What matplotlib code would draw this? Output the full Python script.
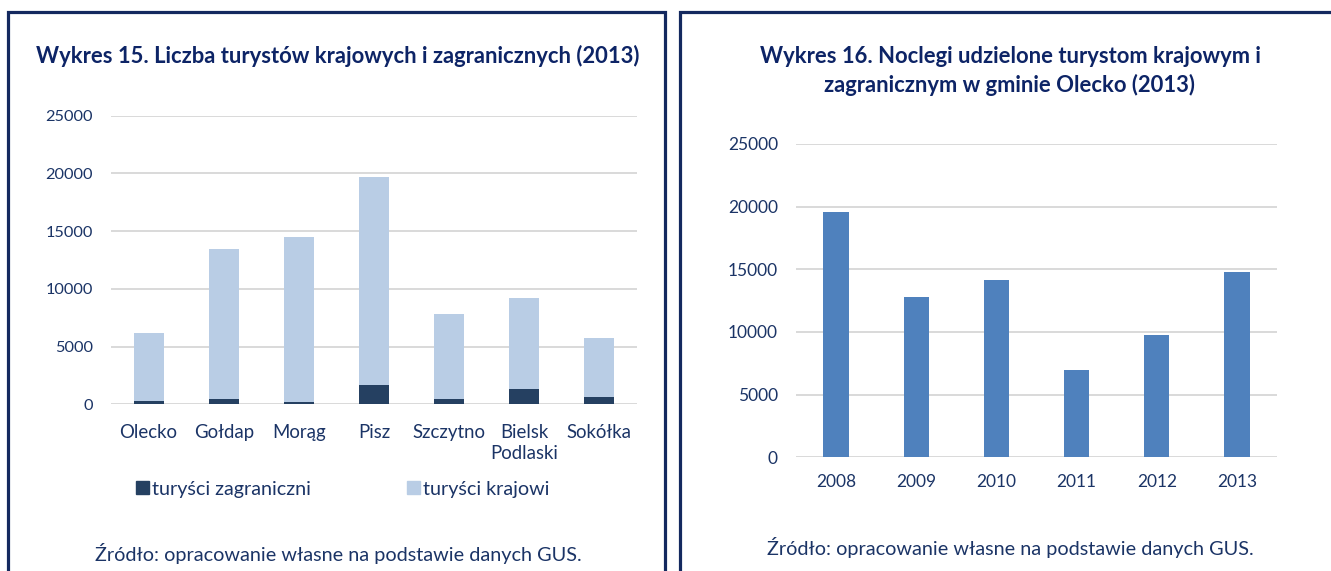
import matplotlib
matplotlib.use("Agg")
import matplotlib.pyplot as plt
from matplotlib.patches import Rectangle, Patch

plt.rcParams['font.family'] = ['Lato', 'DejaVu Sans']

# ---- data ----
towns = ["Olecko", "Gołdap", "Morąg", "Pisz", "Szczytno", "Bielsk\nPodlaski", "Sokółka"]
foreign = [290, 490, 240, 1710, 500, 1310, 650]
domestic = [5860, 12990, 14280, 18000, 7290, 7870, 5080]
years = ["2008", "2009", "2010", "2011", "2012", "2013"]
nights = [19580, 12820, 14120, 6980, 9740, 14790]
yticks = [0, 5000, 10000, 15000, 20000, 25000]

title_left = "Wykres 15. Liczba turystów krajowych i zagranicznych (2013)"
title_right = "Wykres 16. Noclegi udzielone turystom krajowym i\nzagranicznym w gminie Olecko (2013)"
source = "Źródło: opracowanie własne na podstawie danych GUS."
legend_labels = ["turyści zagraniczni", "turyści krajowi"]

# ---- style ----
W, H = 1331, 571
C_DARK = "#254061"
C_LIGHT = "#B9CDE5"
C_BLUE = "#4F81BD"
C_GRID = "#D9D9D9"
C_TITLE = "#0D2466"
C_TEXT = "#1B3466"
C_BORDER = "#14295F"

fig = plt.figure(figsize=(W / 100, H / 100), dpi=100)


def fx(x):
    return x / W


def fy(y):
    return 1 - y / H


# panel borders
for (x0, x1) in [(8, 665), (680, 1345)]:
    fig.patches.append(Rectangle((fx(x0), fy(600)), fx(x1 - x0), (600 - 12) / H,
                                 transform=fig.transFigure, fill=False,
                                 edgecolor=C_BORDER, linewidth=2.3))


def style_axes(ax, pad_x, xsize, ysize):
    for s in ax.spines.values():
        s.set_visible(False)
    ax.set_yticks(yticks)
    ax.set_ylim(0, 25000)
    ax.grid(axis='y', color=C_GRID, linewidth=1.4)
    ax.set_axisbelow(True)
    ax.tick_params(axis='both', length=0, colors=C_TEXT)
    ax.tick_params(axis='y', pad=13, labelsize=ysize)
    ax.tick_params(axis='x', pad=pad_x, labelsize=xsize)


# ---- left chart ----
axL = fig.add_axes([fx(111), fy(404.3), fx(637 - 111), (404.3 - 115.8) / H])
xs = range(len(towns))
axL.bar(xs, foreign, width=0.4, color=C_DARK, label=legend_labels[0])
axL.bar(xs, domestic, width=0.4, bottom=foreign, color=C_LIGHT, label=legend_labels[1])
axL.set_xlim(-0.5, len(towns) - 0.5)
axL.set_xticks(list(xs))
axL.set_xticklabels(towns, linespacing=1.3)
style_axes(axL, 14, 13.4, 11.8)
fig.text(fx(338), fy(56), title_left, ha='center', va='center',
         fontsize=15.8, fontweight='bold', color=C_TITLE)
handles = [Patch(color=C_DARK), Patch(color=C_LIGHT)]
fig.legend(handles, legend_labels, loc='center left',
           bbox_to_anchor=(fx(118), fy(489)), ncol=2, frameon=False,
           fontsize=14.2, labelcolor=C_TEXT, handlelength=0.65, handleheight=0.65,
           handletextpad=0.15, columnspacing=4.9)
fig.text(fx(338), fy(553), source, ha='center', va='center', fontsize=14.3, color=C_TEXT)

# ---- right chart ----
axR = fig.add_axes([fx(796), fy(457.4), fx(1277 - 796), (457.4 - 143.9) / H])
xr = range(len(years))
axR.bar(xr, nights, width=0.316, color=C_BLUE)
axR.set_xlim(-0.5, len(years) - 0.5)
axR.set_xticks(list(xr))
axR.set_xticklabels(years)
style_axes(axR, 12, 12.5, 12.5)
fig.text(fx(1010), fy(71), title_right, ha='center', va='center',
         fontsize=15.8, fontweight='bold', color=C_TITLE, linespacing=1.35)
fig.text(fx(1010), fy(548), source, ha='center', va='center', fontsize=14.3, color=C_TEXT)

fig.savefig("out.png", dpi=100)
